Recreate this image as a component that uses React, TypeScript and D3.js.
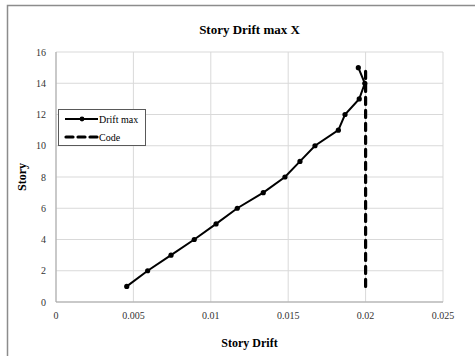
import React from "react";
import * as d3 from "d3";

const stories = [1, 2, 3, 4, 5, 6, 7, 8, 9, 10, 11, 12, 13, 14, 15];
const driftMax = [0.00457, 0.00592, 0.00743, 0.00893, 0.01034, 0.01171, 0.01339, 0.01479, 0.01576, 0.01673, 0.01824, 0.01867, 0.01959, 0.01995, 0.01953];
const codeStories = [1, 15];
const codeValues = [0.02, 0.02];
const xTicks = [0, 0.005, 0.01, 0.015, 0.02, 0.025];
const xTickLabels = ["0", "0.005", "0.01", "0.015", "0.02", "0.025"];
const yTicks = [0, 2, 4, 6, 8, 10, 12, 14, 16];

const W = 475, H = 356;
const m = { left: 56, right: 443, top: 52, bottom: 302 };
const FONT = "'Liberation Serif', 'Times New Roman', serif";

export default function App() {
  const x = d3.scaleLinear().domain([0, 0.025]).range([m.left, m.right]);
  const y = d3.scaleLinear().domain([0, 16]).range([m.bottom, m.top]);
  const driftPts = stories.map((s, i) => [driftMax[i], s] as [number, number]);
  const codePts = codeStories.map((s, i) => [codeValues[i], s] as [number, number]);
  const line = d3.line<[number, number]>().x(d => x(d[0])).y(d => y(d[1]));

  return (
    <svg width={W} height={H} style={{ position: "absolute", left: 0, top: 0 }}>
      <rect x={0} y={0} width={W} height={H} fill="#fff" />
      <rect x={7.5} y={5.5} width={W + 10} height={H + 10} fill="none" stroke="#8c8c8c" strokeWidth={1.5} />
      <text x={(m.left + m.right) / 2} y={34} textAnchor="middle" fontFamily={FONT} fontWeight="bold" fontSize={13}>Story Drift max X</text>
      {yTicks.map(t => (
        <line key={"gy" + t} x1={m.left} x2={m.right} y1={y(t)} y2={y(t)} stroke="#d9d9d9" strokeWidth={1} />
      ))}
      {xTicks.map(t => (
        <line key={"gx" + t} x1={x(t)} x2={x(t)} y1={m.top} y2={m.bottom} stroke="#d9d9d9" strokeWidth={1} />
      ))}
      <line x1={m.left} x2={m.left} y1={m.top} y2={m.bottom} stroke="#a6a6a6" />
      <line x1={m.left} x2={m.right} y1={m.bottom} y2={m.bottom} stroke="#a6a6a6" />
      {yTicks.map(t => (
        <text key={"ly" + t} x={m.left - 10} y={y(t) + 3.5} textAnchor="end" fontFamily={FONT} fontSize={10} fill="#333">{t}</text>
      ))}
      {xTicks.map((t, i) => (
        <text key={"lx" + t} x={x(t)} y={m.bottom + 17} textAnchor="middle" fontFamily={FONT} fontSize={10} fill="#333">{xTickLabels[i]}</text>
      ))}
      <text x={(m.left + m.right) / 2} y={347} textAnchor="middle" fontFamily={FONT} fontWeight="bold" fontSize={12}>Story Drift</text>
      <text transform={`translate(26,${(m.top + m.bottom) / 2}) rotate(-90)`} textAnchor="middle" fontFamily={FONT} fontWeight="bold" fontSize={12}>Story</text>
      <path d={line(codePts) || ""} fill="none" stroke="#000" strokeWidth={3.2} strokeDasharray="7,6" strokeLinecap="round" />
      <path d={line(driftPts) || ""} fill="none" stroke="#000" strokeWidth={2} />
      {driftPts.map((p, i) => (
        <circle key={"pt" + i} cx={x(p[0])} cy={y(p[1])} r={2.6} fill="#000" />
      ))}
      <rect x={58.5} y={109.5} width={87} height={36} fill="#fff" stroke="#595959" strokeWidth={1} />
      <line x1={65} x2={98} y1={119} y2={119} stroke="#000" strokeWidth={2} />
      <circle cx={82} cy={119} r={2.4} fill="#000" />
      <text x={99} y={122.5} fontFamily={FONT} fontSize={10} fill="#000">Drift max</text>
      <line x1={66} x2={98} y1={137} y2={137} stroke="#000" strokeWidth={3.2} strokeDasharray="7,5" strokeLinecap="round" />
      <text x={99} y={140.5} fontFamily={FONT} fontSize={10} fill="#000">Code</text>
    </svg>
  );
}
